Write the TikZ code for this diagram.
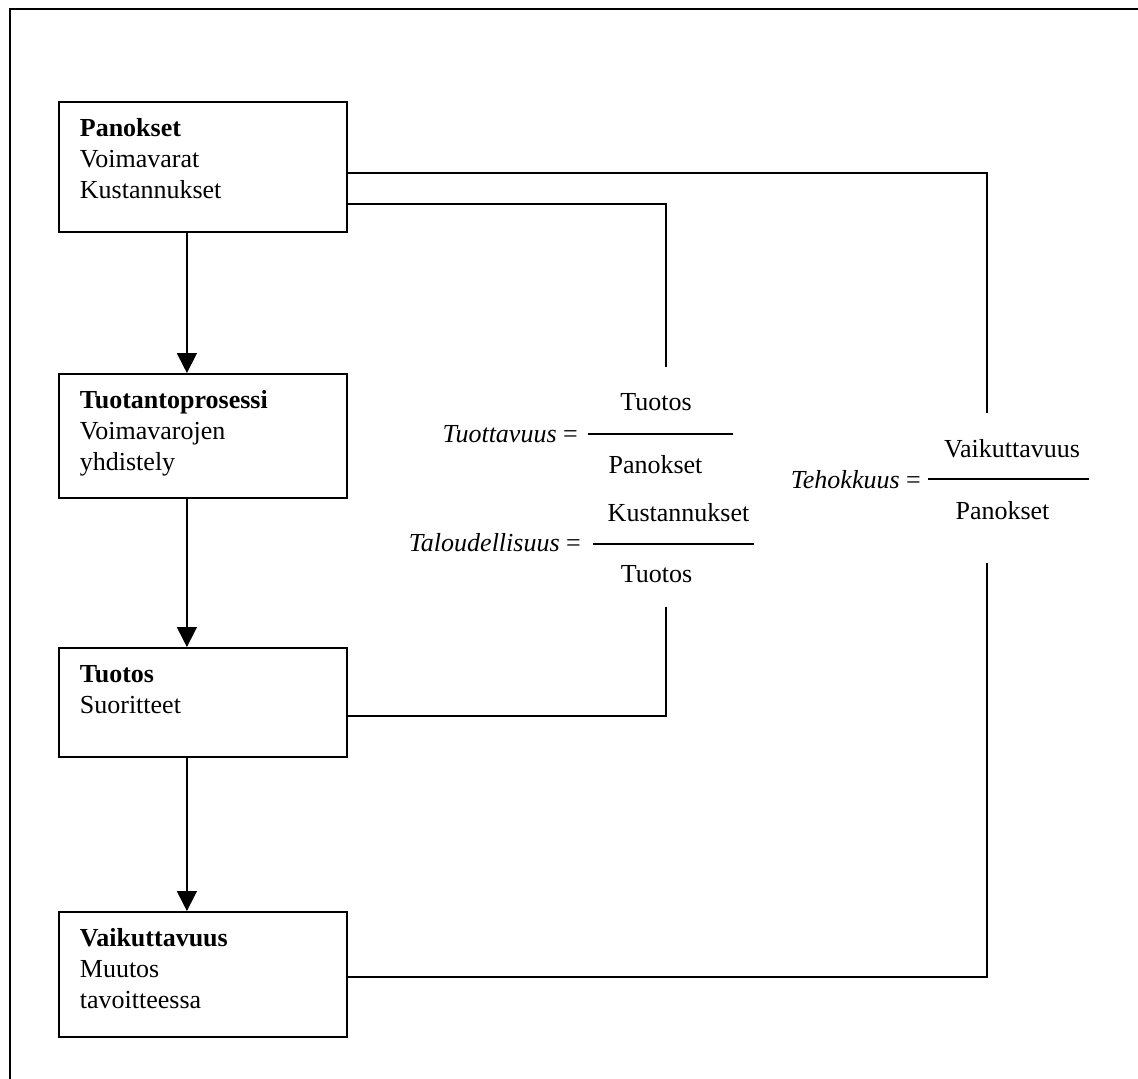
\documentclass[tikz,border=0pt]{standalone}
\usepackage{fontspec}
\setmainfont{Liberation Serif}
\usetikzlibrary{arrows.meta}
\tikzset{
  stage/.style={draw, line width=1.8pt, anchor=north west, inner xsep=21pt, inner ysep=0pt},
  term/.style={inner sep=0pt, anchor=base},
  flow/.style={line width=1.8pt, -{Triangle[length=20pt,width=20pt]}},
  link/.style={line width=1.8pt}
}
\newcommand{\stagetext}[3]{\parbox[c][#1][t]{246pt}{\rule{0pt}{35pt}\textbf{#2}\\#3}}
\begin{document}
\begin{tikzpicture}[x=1pt, y=-1pt, font=\fontsize{26}{30.7}\selectfont]
				\useasboundingbox (0,0) rectangle (1138,1079);
				\draw[link] (10,1079) -- (10,9) -- (1138,9);
				\node[stage] (pan) at (58,101) {\stagetext{130pt}{Panokset}{Voimavarat\\Kustannukset}};
				\node[stage] (tuotanto) at (58,373) {\stagetext{124pt}{Tuotantoprosessi}{Voimavarojen\\yhdistely}};
				\node[stage] (tuotos) at (58,647) {\stagetext{109pt}{Tuotos}{Suoritteet}};
				\node[stage] (vaik) at (58,911) {\stagetext{125pt}{Vaikuttavuus}{Muutos\\tavoitteessa}};
				\draw[flow] ([xshift=-16pt]pan.south) to ([xshift=-16pt]tuotanto.north);
				\draw[flow] ([xshift=-16pt]tuotanto.south) to ([xshift=-16pt]tuotos.north);
				\draw[flow] ([xshift=-16pt]tuotos.south) to ([xshift=-16pt]vaik.north);
				\node[term, anchor=base east] (tuottavuus) at (578,442) {\textit{Tuottavuus} =};
				\node[term] (tyN) at (656,410) {Tuotos};
				\node[term] (tyD) at (655.5,473) {Panokset};
				\draw[link] (588,434) -- (733,434);
				\node[term, anchor=base east] (talous) at (581,551) {\textit{Taloudellisuus} =};
				\node[term] (taN) at (678.5,521) {Kustannukset};
				\node[term] (taD) at (656.5,582) {Tuotos};
				\draw[link] (593,544) -- (754,544);
				\node[term, anchor=base east] (tehokkuus) at (921,488) {\textit{Tehokkuus} =};
				\node[term] (teN) at (1012,457) {Vaikuttavuus};
				\node[term] (teD) at (1002.5,519) {Panokset};
				\draw[link] (928,479) -- (1089,479);
				\coordinate (tyU) at (666,367);
				\coordinate (tyL) at (666,607);
				\coordinate (tvU) at (987,413);
				\coordinate (tvL) at (987,563);
				\draw[link] ([yshift=-6pt]pan.east) -| (tvU);
				\draw[link] ([yshift=-37pt]pan.east) -| (tyU);
				\draw[link] ([yshift=-13.5pt]tuotos.east) -| (tyL);
				\draw[link] ([yshift=-2.5pt]vaik.east) -| (tvL);
			\end{tikzpicture}
\end{document}
